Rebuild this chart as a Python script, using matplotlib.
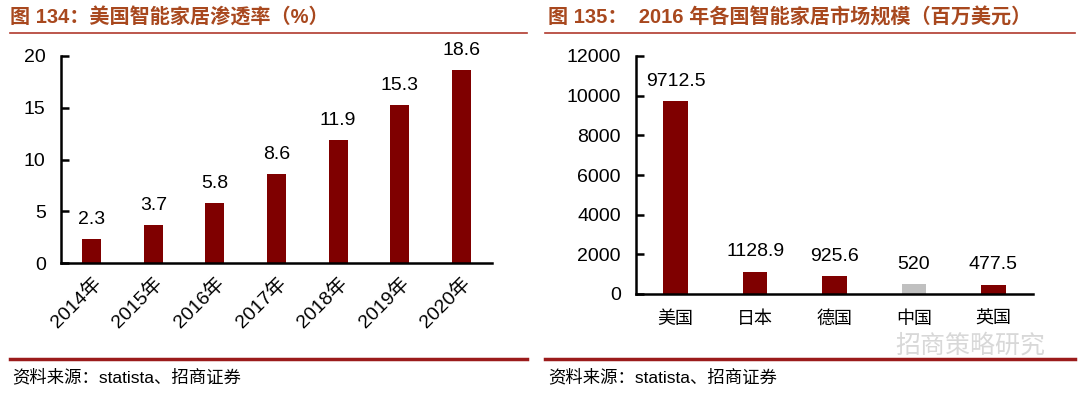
import matplotlib
matplotlib.use("Agg")
import matplotlib.pyplot as plt
from matplotlib.lines import Line2D

plt.rcParams['font.family'] = ['Liberation Sans', 'Noto Sans CJK SC', 'DejaVu Sans']

# left chart: US smart home penetration (%)
years = ['2014年', '2015年', '2016年', '2017年', '2018年', '2019年', '2020年']
penetration = [2.3, 3.7, 5.8, 8.6, 11.9, 15.3, 18.6]

# right chart: 2016 market size by country (million USD)
countries = ['美国', '日本', '德国', '中国', '英国']
market = [9712.5, 1128.9, 925.6, 520, 477.5]

W, H = 1080, 395
BAR = '#7F0000'
GREY = '#C0C0C0'
TITLE_C = '#A8481E'
LINE_C = '#9B1B1B'
FS = 14

fig = plt.figure(figsize=(W / 100, H / 100), dpi=100)


def px_axes(x0, x1, ytop, ybot):
    return fig.add_axes([x0 / W, 1 - ybot / H, (x1 - x0) / W, (ybot - ytop) / H])


def style(ax):
    for s in ['top', 'right']:
        ax.spines[s].set_visible(False)
    for s in ['left', 'bottom']:
        ax.spines[s].set_linewidth(1.8)
    ax.tick_params(axis='y', direction='in', length=6, width=1.8, pad=11, labelsize=FS)
    ax.tick_params(axis='x', length=0, pad=10, labelsize=FS)


# left
ax1 = px_axes(61, 492, 56, 263)
ax1.bar(range(len(years)), penetration, width=0.31, color=BAR)
ax1.set_xlim(-0.5, len(years) - 0.5)
ax1.set_ylim(0, 20)
ax1.set_yticks([0, 5, 10, 15, 20])
ax1.set_xticks(range(len(years)))
ax1.set_xticklabels(years, rotation=45, ha='right', rotation_mode='anchor')
style(ax1)
ax1.tick_params(axis='x', pad=8)
for i, v in enumerate(penetration):
    ax1.annotate(f'{v}', (i, v), xytext=(0, 8), textcoords='offset points',
                 ha='center', va='bottom', fontsize=FS)

# right
ax2 = px_axes(636, 1033, 56, 294)
colors = [GREY if c == '中国' else BAR for c in countries]
ax2.bar(range(len(countries)), market, width=0.31, color=colors)
ax2.set_xlim(-0.5, len(countries) - 0.5)
ax2.set_ylim(0, 12000)
ax2.set_yticks(range(0, 12001, 2000))
ax2.set_xticks(range(len(countries)))
ax2.set_xticklabels(countries)
style(ax2)
ax2.tick_params(axis='x', pad=12, labelsize=13)
for i, v in enumerate(market):
    ax2.annotate(f'{v:g}', (i, v), xytext=(0, 8), textcoords='offset points',
                 ha='center', va='bottom', fontsize=FS)

# titles, rules and source notes
fig.text(10 / W, 1 - 18 / H, '图 134：美国智能家居渗透率（%）', fontsize=14.5,
         fontweight='bold', color=TITLE_C, va='center', ha='left')
fig.text(548 / W, 1 - 18 / H, '图 135：  2016 年各国智能家居市场规模（百万美元）', fontsize=14.5,
         fontweight='bold', color=TITLE_C, va='center', ha='left')

for x0, x1 in [(10, 527), (545, 1075)]:
    fig.add_artist(Line2D([x0 / W, x1 / W], [1 - 33 / H, 1 - 33 / H], color='#B03A2E', lw=1.2))
    fig.add_artist(Line2D([x0 / W, x1 / W], [1 - 359 / H, 1 - 359 / H], color=LINE_C, lw=2.5))

fig.text(12 / W, 1 - 377 / H, '资料来源：statista、招商证券', fontsize=12.5, va='center', ha='left')
fig.text(548 / W, 1 - 377 / H, '资料来源：statista、招商证券', fontsize=12.5, va='center', ha='left')

# watermark
fig.text(1045 / W, 1 - 346 / H, '招商策略研究', fontsize=18, color='#D8D8D8',
         va='center', ha='right')

fig.savefig('out.png', dpi=100)
